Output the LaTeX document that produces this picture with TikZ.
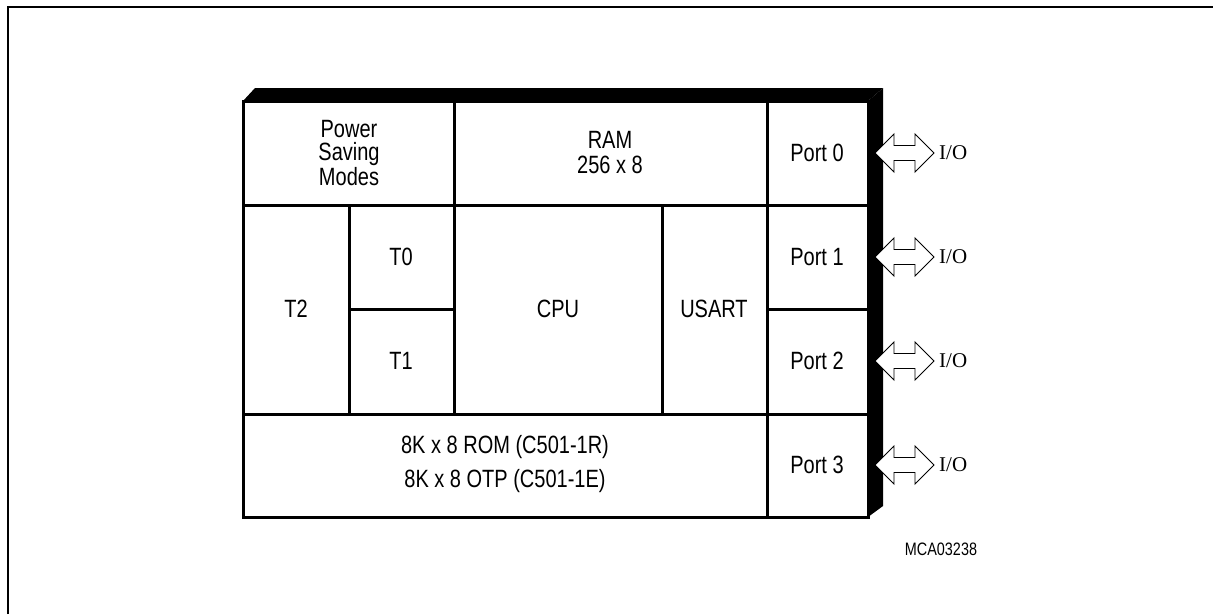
\documentclass[tikz,border=0pt]{standalone}
\usepackage{fontspec}
\setmainfont{Liberation Sans}[FakeStretch=0.8]
\newfontfamily\iofont{Liberation Serif}
\begin{document}
\begin{tikzpicture}[x=1pt,y=-1pt,
  cellline/.style={line width=3pt},
  lbl/.style={font=\fontsize{25}{23}\selectfont, align=center, inner sep=0pt},
  iolbl/.style={font=\iofont\fontsize{21}{21}\selectfont, anchor=west, inner sep=0pt},
  ioarrow/.style={draw=black, fill=white, line width=0.9pt, line join=miter},
  frameline/.style={line width=2pt}]
\useasboundingbox (0,0) rectangle (1213,614);
% outer frame
\draw[frameline] (8,614) -- (8,7) -- (1213,7);
% 3D faces
\fill[black] (243,101) -- (255,88) -- (883,88) -- (868,101) -- cycle;
\fill[black] (868,101) -- (883,88) -- (883,506) -- (868,517) -- cycle;
% cells
\draw[cellline] (243,101) rectangle (454,205);
\draw[cellline] (454,101) rectangle (767,205);
\draw[cellline] (767,101) rectangle (868,205);
\draw[cellline] (243,205) rectangle (349,414);
\draw[cellline] (349,205) rectangle (454,309);
\draw[cellline] (349,309) rectangle (454,414);
\draw[cellline] (454,205) rectangle (662,414);
\draw[cellline] (662,205) rectangle (767,414);
\draw[cellline] (767,205) rectangle (868,309);
\draw[cellline] (767,309) rectangle (868,414);
\draw[cellline] (243,414) rectangle (767,517);
\draw[cellline] (767,414) rectangle (868,517);
% labels
\node[lbl] (psm) at (349,153) {Power\\Saving\\Modes};
\node[lbl, font=\fontsize{25}{25}\selectfont] (ram) at (610,153) {RAM\\256 x 8};
\node[lbl] (p0) at (817,153) {Port 0};
\node[lbl] (p1) at (817,257) {Port 1};
\node[lbl] (p2) at (817,361) {Port 2};
\node[lbl] (p3) at (817,465) {Port 3};
\node[lbl] (t0) at (401,257) {T0};
\node[lbl] (t1) at (401,361) {T1};
\node[lbl] (t2) at (296,309) {T2};
\node[lbl] (cpu) at (558,309) {CPU};
\node[lbl] (usart) at (714,309) {USART};
\node[lbl, font=\fontsize{25}{34}\selectfont] (rom) at (505,464) {8K x 8 ROM (C501-1R)\\8K x 8 OTP (C501-1E)};
\node[font=\fontsize{18}{18}\selectfont, inner sep=0pt] (mca) at (941,549) {MCA03238};
% I/O arrows
\foreach \c/\n in {153/0,257/1,361/2,465/3}{
  \coordinate (a\n) at (875,\c);
  \draw[ioarrow] (a\n) -- ++(19,-19) -- ++(0,11.5) -- ++(21,0) -- ++(0,-11.5)
     -- ++(19,19) -- ++(-19,19) -- ++(0,-11.5) -- ++(-21,0) -- ++(0,11.5) -- cycle;
  \node[iolbl] (io\n) at (939,\c) {I/O};
}
\end{tikzpicture}
\end{document}
